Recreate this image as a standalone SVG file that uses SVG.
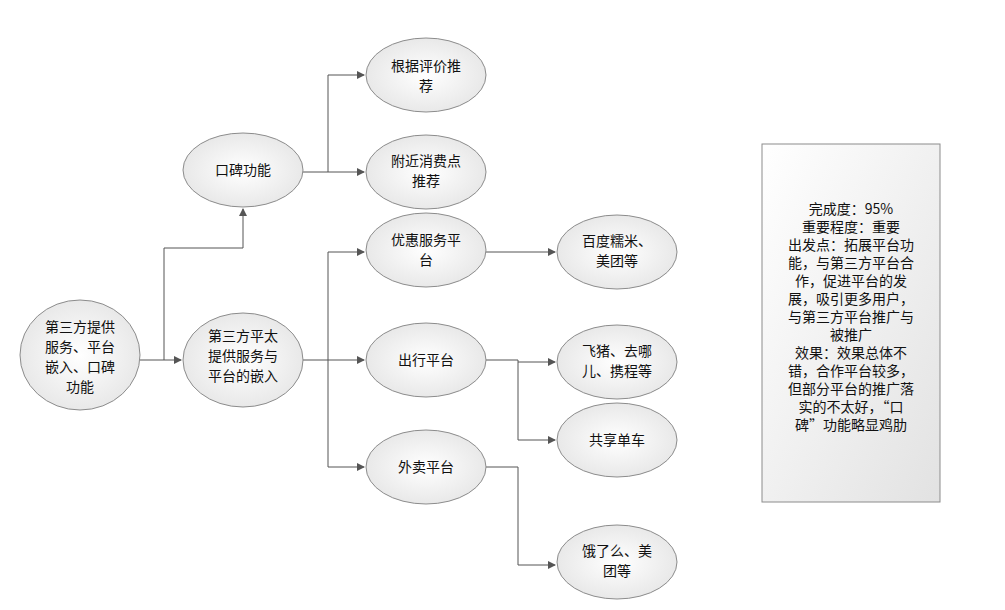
<svg xmlns="http://www.w3.org/2000/svg" width="1005" height="610" viewBox="0 0 1005 610">
<defs>
<radialGradient id="g" cx="50%" cy="50%" r="60%"><stop offset="0" stop-color="#ffffff"/><stop offset="1" stop-color="#e4e4e4"/></radialGradient>
<linearGradient id="b" x1="0" y1="0" x2="1" y2="1"><stop offset="0" stop-color="#ffffff"/><stop offset="1" stop-color="#e2e2e2"/></linearGradient>
<marker id="a" markerWidth="8" markerHeight="8" refX="7" refY="4" orient="auto" markerUnits="userSpaceOnUse"><path d="M0,0 L8,4 L0,8 z" fill="#555"/></marker>
</defs>
<style>
ellipse{fill:url(#g);stroke:#8c8c8c;stroke-width:1}
text{font-family:"Noto Sans CJK SC","Liberation Sans",sans-serif;font-size:14px;fill:#111;text-anchor:middle}
.c{fill:none;stroke:#555;stroke-width:1}
</style>
<rect width="1005" height="610" fill="#fff"/>
<g id="connectors">
<path class="c" d="M140,360 H181" marker-end="url(#a)"/>
<path class="c" d="M164,360 V248 H243 V209" marker-end="url(#a)"/>
<path class="c" d="M303,172 H328 V75 H364" marker-end="url(#a)"/>
<path class="c" d="M328,172 H364" marker-end="url(#a)"/>
<path class="c" d="M303,360 H364" marker-end="url(#a)"/>
<path class="c" d="M328,252 H364" marker-end="url(#a)"/>
<path class="c" d="M328,252 V467 H364" marker-end="url(#a)"/>
<path class="c" d="M486,252 H555" marker-end="url(#a)"/>
<path class="c" d="M486,360 H518 V362 H555" marker-end="url(#a)"/>
<path class="c" d="M518,362 V440 H555" marker-end="url(#a)"/>
<path class="c" d="M486,467 H518 V565 H555" marker-end="url(#a)"/>
</g>
<g id="root"><ellipse cx="80" cy="355" rx="60" ry="55"/><text x="80" y="332">第三方提供</text><text x="80" y="352">服务、平台</text><text x="80" y="372">嵌入、口碑</text><text x="80" y="392">功能</text></g>
<g id="koubei"><ellipse cx="243" cy="170" rx="60" ry="37"/><text x="243" y="175">口碑功能</text></g>
<g id="third"><ellipse cx="243" cy="360" rx="60" ry="47"/><text x="243" y="341">第三方平太</text><text x="243" y="361">提供服务与</text><text x="243" y="381">平台的嵌入</text></g>
<g id="n1"><ellipse cx="426" cy="75" rx="60" ry="37"/><text x="426" y="71">根据评价推</text><text x="426" y="91">荐</text></g>
<g id="n2"><ellipse cx="426" cy="172" rx="60" ry="37"/><text x="426" y="166">附近消费点</text><text x="426" y="186">推荐</text></g>
<g id="n3"><ellipse cx="426" cy="250" rx="60" ry="37"/><text x="426" y="245">优惠服务平</text><text x="426" y="265">台</text></g>
<g id="n4"><ellipse cx="426" cy="360" rx="60" ry="37"/><text x="426" y="365">出行平台</text></g>
<g id="n5"><ellipse cx="426" cy="467" rx="60" ry="37"/><text x="426" y="472">外卖平台</text></g>
<g id="n6"><ellipse cx="617" cy="252" rx="60" ry="37"/><text x="617" y="246">百度糯米、</text><text x="617" y="266">美团等</text></g>
<g id="n7"><ellipse cx="617" cy="362" rx="60" ry="37"/><text x="617" y="356">飞猪、去哪</text><text x="617" y="376">儿、携程等</text></g>
<g id="n8"><ellipse cx="617" cy="440" rx="60" ry="37"/><text x="617" y="445">共享单车</text></g>
<g id="n9"><ellipse cx="617" cy="562" rx="60" ry="37"/><text x="617" y="556">饿了么、美</text><text x="617" y="576">团等</text></g>
<g id="note"><rect x="762" y="144" width="178" height="358" fill="url(#b)" stroke="#8c8c8c"/>
<text x="851" y="214">完成度：95%</text><text x="851" y="232">重要程度：重要</text><text x="851" y="250">出发点：拓展平台功</text><text x="851" y="268">能，与第三方平台合</text><text x="851" y="286">作，促进平台的发</text><text x="851" y="304">展，吸引更多用户，</text><text x="851" y="322">与第三方平台推广与</text><text x="851" y="340">被推广</text><text x="851" y="358">效果：效果总体不</text><text x="851" y="376">错，合作平台较多，</text><text x="851" y="394">但部分平台的推广落</text><text x="851" y="412">实的不太好，“口</text><text x="851" y="430">碑”功能略显鸡肋</text></g>
</svg>
